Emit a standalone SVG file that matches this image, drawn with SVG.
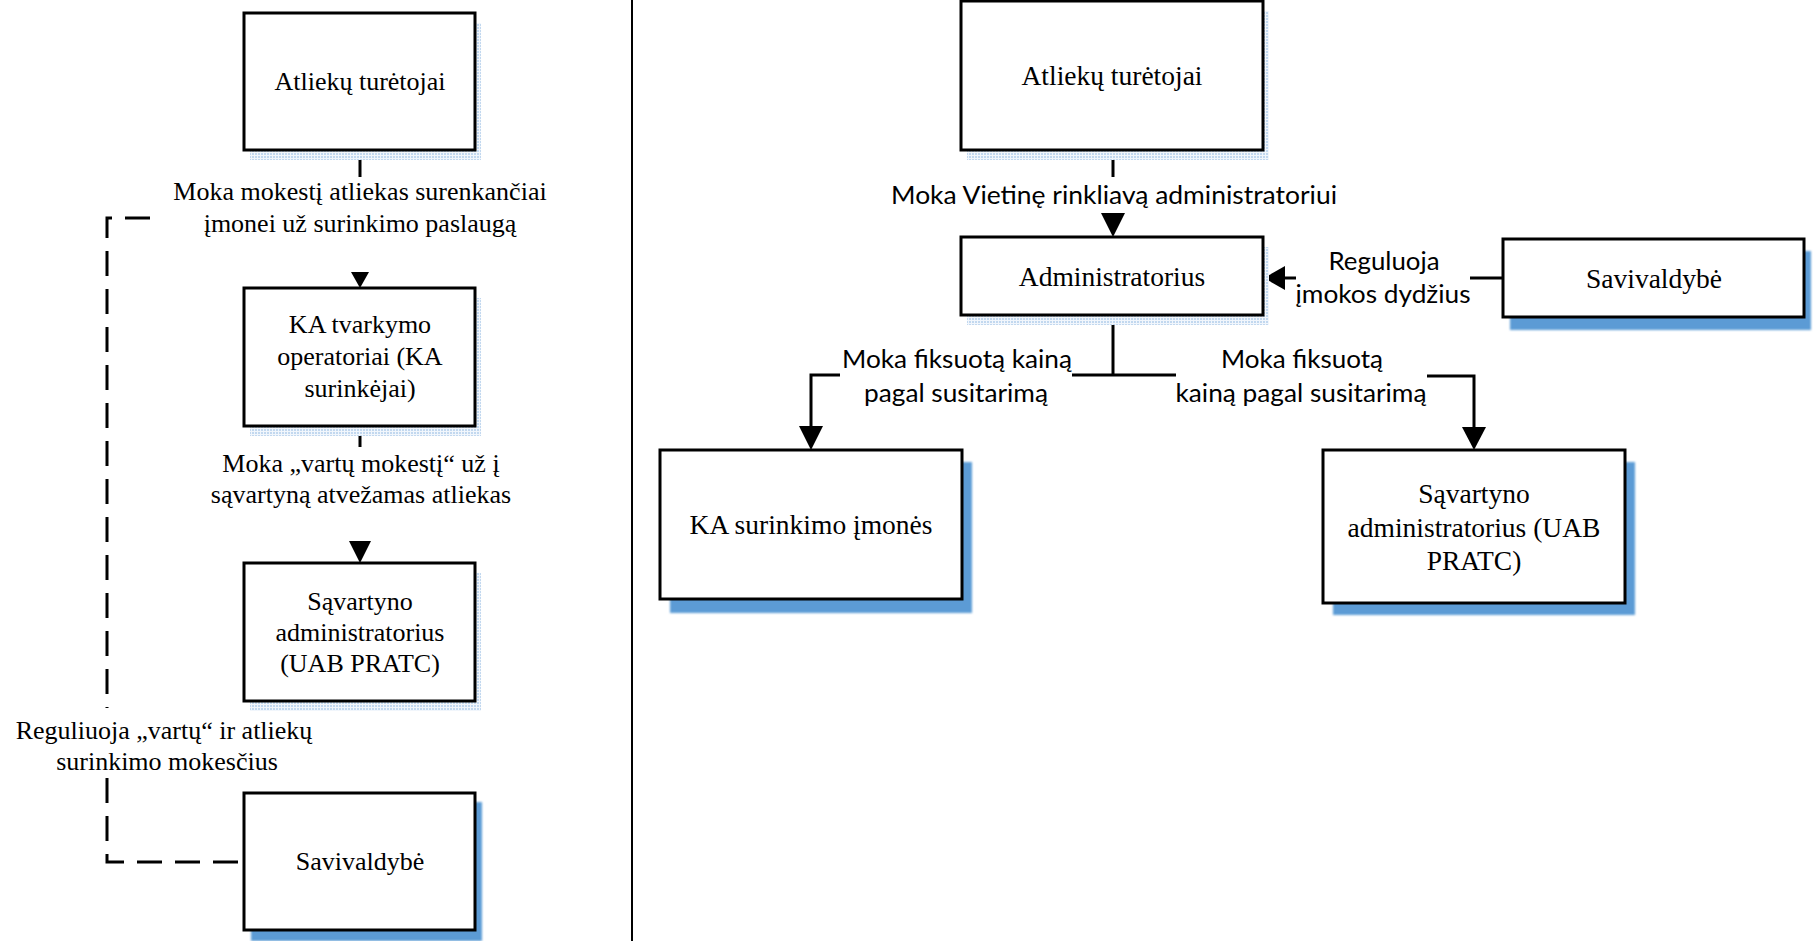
<svg xmlns="http://www.w3.org/2000/svg" width="1813" height="941" viewBox="0 0 1813 941">
<style>
.bx{fill:#fff;stroke:#000;stroke-width:3}
.sd{fill:url(#dots)}
.sb{fill:#5b9bd5;filter:url(#blur)}
.ln{fill:none;stroke:#000;stroke-width:3}
.ds{fill:none;stroke:#000;stroke-width:3;stroke-dasharray:25 13}
.ah{fill:#000}
.tl{font-family:"Liberation Serif","Times New Roman",serif;font-size:26px;fill:#000;text-anchor:middle}
.tr{font-family:"Liberation Serif","Times New Roman",serif;font-size:27.5px;fill:#000;text-anchor:middle}
.ts{font-family:Lato,"Liberation Sans",sans-serif;font-size:25px;fill:#000;text-anchor:middle}
</style>
<defs>
<pattern id="dots" width="3" height="3" patternUnits="userSpaceOnUse">
<rect width="3" height="3" fill="#f1f6fc"/>
<rect width="2" height="2" fill="#c2d8ef"/>
</pattern>
<filter id="blur" x="-5%" y="-5%" width="110%" height="110%"><feGaussianBlur stdDeviation="1.2"/></filter>
</defs>
<rect width="1813" height="941" fill="#fff"/>
<line x1="632" y1="0" x2="632" y2="941" stroke="#000" stroke-width="2"/>

<g id="connectors">
<line class="ln" x1="360" y1="150" x2="360" y2="177"/>
<polygon class="ah" points="351,272 369,272 360,288"/>
<line class="ln" x1="360" y1="426" x2="360" y2="447"/>
<polygon class="ah" points="349,541 371,541 360,563"/>
<path class="ds" d="M150 218 H107 V708"/>
<path class="ds" d="M107 778 V862 H244"/>
<line class="ln" x1="1113" y1="150" x2="1113" y2="177"/>
<polygon class="ah" points="1101,213 1125,213 1113,237"/>
<line class="ln" x1="1503" y1="278" x2="1470" y2="278"/>
<line class="ln" x1="1296" y1="278" x2="1282" y2="278"/>
<polygon class="ah" points="1285,266 1285,290 1264,278"/>
<line class="ln" x1="1113" y1="315" x2="1113" y2="375"/>
<line class="ln" x1="1072" y1="375" x2="1176" y2="375"/>
<polyline class="ln" points="840,375 811,375 811,428"/>
<polygon class="ah" points="799,426 823,426 811,450"/>
<polyline class="ln" points="1427,376 1474,376 1474,429"/>
<polygon class="ah" points="1462,427 1486,427 1474,450"/>
</g>

<g id="edge-labels">
<text class="tl" x="360" y="200">Moka mokestį atliekas surenkančiai</text>
<text class="tl" x="360" y="232">įmonei už surinkimo paslaugą</text>
<text class="tl" x="361" y="472">Moka „vartų mokestį“ už į</text>
<text class="tl" x="361" y="503">sąvartyną atvežamas atliekas</text>
<text class="tl" x="164" y="739">Reguliuoja „vartų“ ir atliekų</text>
<text class="tl" x="167" y="770">surinkimo mokesčius</text>
<text class="ts" x="1114" y="204" textLength="446" lengthAdjust="spacingAndGlyphs">Moka Vietinę rinkliavą administratoriui</text>
<text class="ts" x="1384" y="270" textLength="111" lengthAdjust="spacingAndGlyphs">Reguluoja</text>
<text class="ts" x="1383" y="303" textLength="175" lengthAdjust="spacingAndGlyphs">įmokos dydžius</text>
<text class="ts" x="957" y="368" textLength="230" lengthAdjust="spacingAndGlyphs">Moka fiksuotą kainą</text>
<text class="ts" x="956" y="402" textLength="184" lengthAdjust="spacingAndGlyphs">pagal susitarimą</text>
<text class="ts" x="1302" y="368" textLength="162" lengthAdjust="spacingAndGlyphs">Moka fiksuotą</text>
<text class="ts" x="1301" y="402" textLength="251" lengthAdjust="spacingAndGlyphs">kainą pagal susitarimą</text>
</g>

<g id="left-atlieku-turetojai">
<rect class="sd" x="250" y="23" width="231" height="137"/>
<rect class="bx" x="244" y="13" width="231" height="137"/>
<text class="tl" x="360" y="90">Atliekų turėtojai</text>
</g>
<g id="left-ka-tvarkymo-operatoriai">
<rect class="sd" x="250" y="298" width="231" height="138"/>
<rect class="bx" x="244" y="288" width="231" height="138"/>
<text class="tl" x="360" y="333">KA tvarkymo</text>
<text class="tl" x="360" y="365">operatoriai (KA</text>
<text class="tl" x="360" y="397">surinkėjai)</text>
</g>
<g id="left-savartyno-administratorius">
<rect class="sd" x="250" y="573" width="231" height="138"/>
<rect class="bx" x="244" y="563" width="231" height="138"/>
<text class="tl" x="360" y="610">Sąvartyno</text>
<text class="tl" x="360" y="641">administratorius</text>
<text class="tl" x="360" y="672">(UAB PRATC)</text>
</g>
<g id="left-savivaldybe">
<rect class="sb" x="251" y="802" width="231" height="139"/>
<rect class="bx" x="244" y="793" width="231" height="137"/>
<text class="tl" x="360" y="870">Savivaldybė</text>
</g>

<g id="right-atlieku-turetojai">
<rect class="sd" x="967" y="11" width="302" height="149"/>
<rect class="bx" x="961" y="1" width="302" height="149"/>
<text class="tr" x="1112" y="85">Atliekų turėtojai</text>
</g>
<g id="right-administratorius">
<rect class="sd" x="967" y="247" width="302" height="78"/>
<rect class="bx" x="961" y="237" width="302" height="78"/>
<text class="tr" x="1112" y="286">Administratorius</text>
</g>
<g id="right-savivaldybe">
<rect class="sb" x="1510" y="251" width="301" height="79"/>
<rect class="bx" x="1503" y="239" width="301" height="78"/>
<text class="tr" x="1654" y="288">Savivaldybė</text>
</g>
<g id="right-ka-surinkimo-imones">
<rect class="sb" x="670" y="462" width="302" height="151"/>
<rect class="bx" x="660" y="450" width="302" height="149"/>
<text class="tr" x="811" y="534">KA surinkimo įmonės</text>
</g>
<g id="right-savartyno-administratorius">
<rect class="sb" x="1333" y="462" width="302" height="153"/>
<rect class="bx" x="1323" y="450" width="302" height="153"/>
<text class="tr" x="1474" y="503">Sąvartyno</text>
<text class="tr" x="1474" y="537">administratorius (UAB</text>
<text class="tr" x="1474" y="570">PRATC)</text>
</g>
</svg>
